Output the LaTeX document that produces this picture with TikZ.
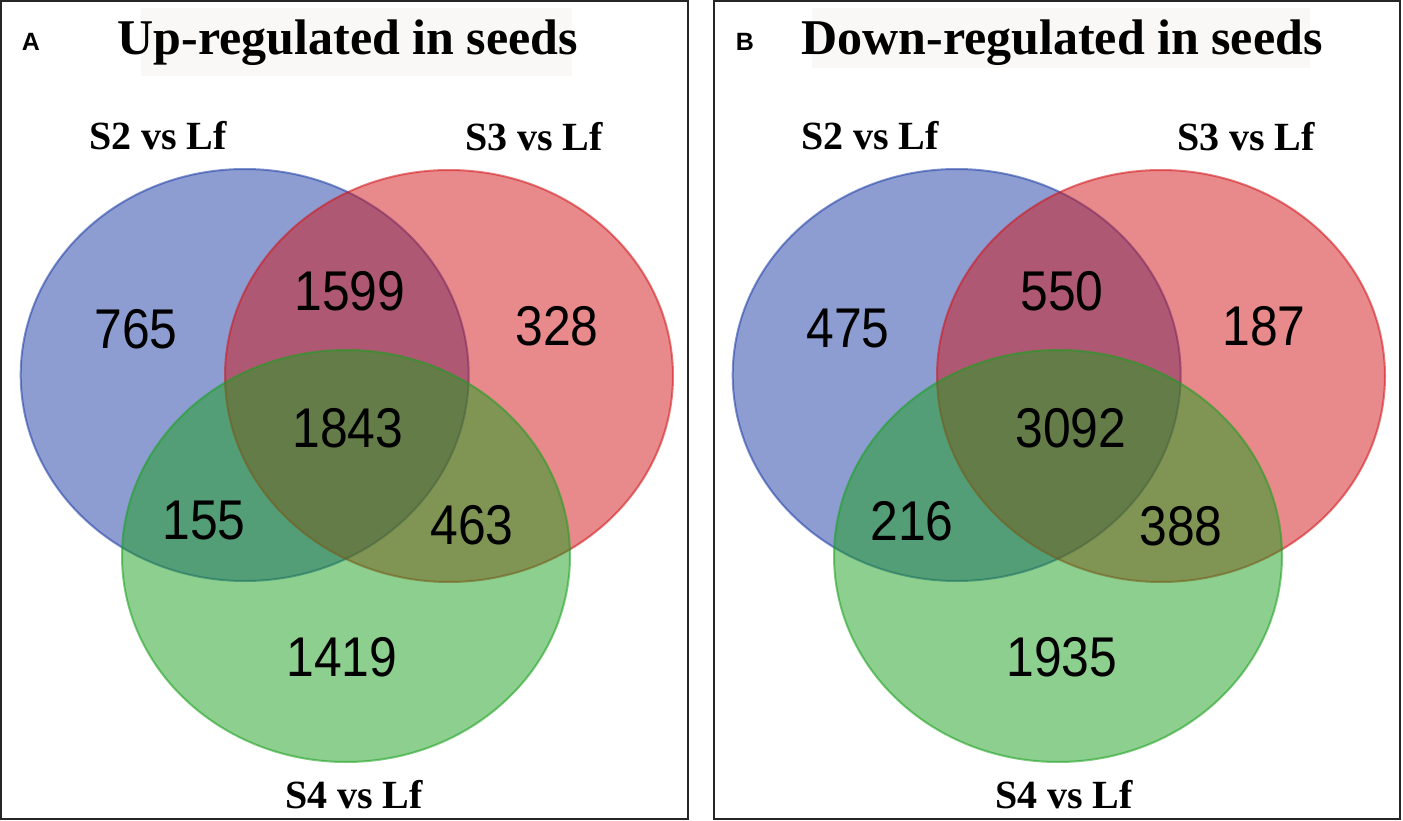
\documentclass[tikz,border=0pt]{standalone}
\usepackage{fontspec}
\setmainfont{Liberation Serif}
\newfontfamily\numfont{Liberation Sans}
\definecolor{vblue}{RGB}{28,60,165}
\definecolor{vred}{RGB}{210,20,24}
\definecolor{vgreen}{RGB}{26,160,30}
\definecolor{titlebg}{RGB}{249,248,246}
\newcommand{\vnum}[1]{\scalebox{0.89}[1]{#1}}
\begin{document}
\begin{tikzpicture}[x=1pt,y=-1pt,
  frame/.style={draw=black!85,line width=1.6pt},
  vset/.style={fill=#1,fill opacity=0.5,draw=#1,draw opacity=0.55,line width=2pt},
  num/.style={font=\numfont\fontsize{56}{56}\selectfont,inner sep=0pt,anchor=center},
  setlab/.style={font=\bfseries\fontsize{40}{40}\selectfont,inner sep=0pt,anchor=base},
  ttl/.style={font=\bfseries\fontsize{50}{50}\selectfont,inner sep=0pt,anchor=base},
  plab/.style={font=\numfont\bfseries\fontsize{25}{25}\selectfont,inner sep=0pt,anchor=base}]
\useasboundingbox (0,0) rectangle (1403,821);
\fill[white] (0,0) rectangle (1403,821);
% frames
\draw[frame] (1,1) rectangle (688,819);
\draw[frame] (714,1) rectangle (1400,819);
% title backgrounds
\fill[titlebg] (141,8) rectangle (572,76);
\fill[titlebg] (812,8) rectangle (1310,68);
% ---------- Panel A ----------
\draw[vset=vblue] (244.7,375) ellipse [x radius=224pt,y radius=206pt];
\draw[vset=vred] (449,376) ellipse [x radius=224pt,y radius=206pt];
\draw[vset=vgreen] (346,556) ellipse [x radius=224pt,y radius=206pt];
\node[plab] (pA) at (31,51) {A};
\node[ttl] (tA) at (348,55) {Up-regulated in seeds};
\node[setlab] (s2A) at (158,150) {S2 vs Lf};
\node[setlab] (s3A) at (534,151) {S3 vs Lf};
\node[setlab] (s4A) at (354,808) {S4 vs Lf};
\node[num] (a1) at (136,329) {\vnum{765}};
\node[num] (a2) at (350,291) {\vnum{1599}};
\node[num] (a3) at (557,326) {\vnum{328}};
\node[num] (a4) at (348,428) {\vnum{1843}};
\node[num] (a5) at (204,521) {\vnum{155}};
\node[num] (a6) at (472,525) {\vnum{463}};
\node[num] (a7) at (342,657) {\vnum{1419}};
% ---------- Panel B ----------
\draw[vset=vblue] (956.7,375) ellipse [x radius=224pt,y radius=206pt];
\draw[vset=vred] (1161,376) ellipse [x radius=224pt,y radius=206pt];
\draw[vset=vgreen] (1058,556) ellipse [x radius=224pt,y radius=206pt];
\node[plab] (pB) at (745,51) {B};
\node[ttl] (tB) at (1062,55) {Down-regulated in seeds};
\node[setlab] (s2B) at (870,150) {S2 vs Lf};
\node[setlab] (s3B) at (1246,151) {S3 vs Lf};
\node[setlab] (s4B) at (1064,808) {S4 vs Lf};
\node[num] (b1) at (848,329) {\vnum{475}};
\node[num] (b2) at (1062,291) {\vnum{550}};
\node[num] (b3) at (1264,326) {\vnum{187}};
\node[num] (b4) at (1071,428) {\vnum{3092}};
\node[num] (b5) at (912,521) {\vnum{216}};
\node[num] (b6) at (1181,526) {\vnum{388}};
\node[num] (b7) at (1062,657) {\vnum{1935}};
\end{tikzpicture}
\end{document}
